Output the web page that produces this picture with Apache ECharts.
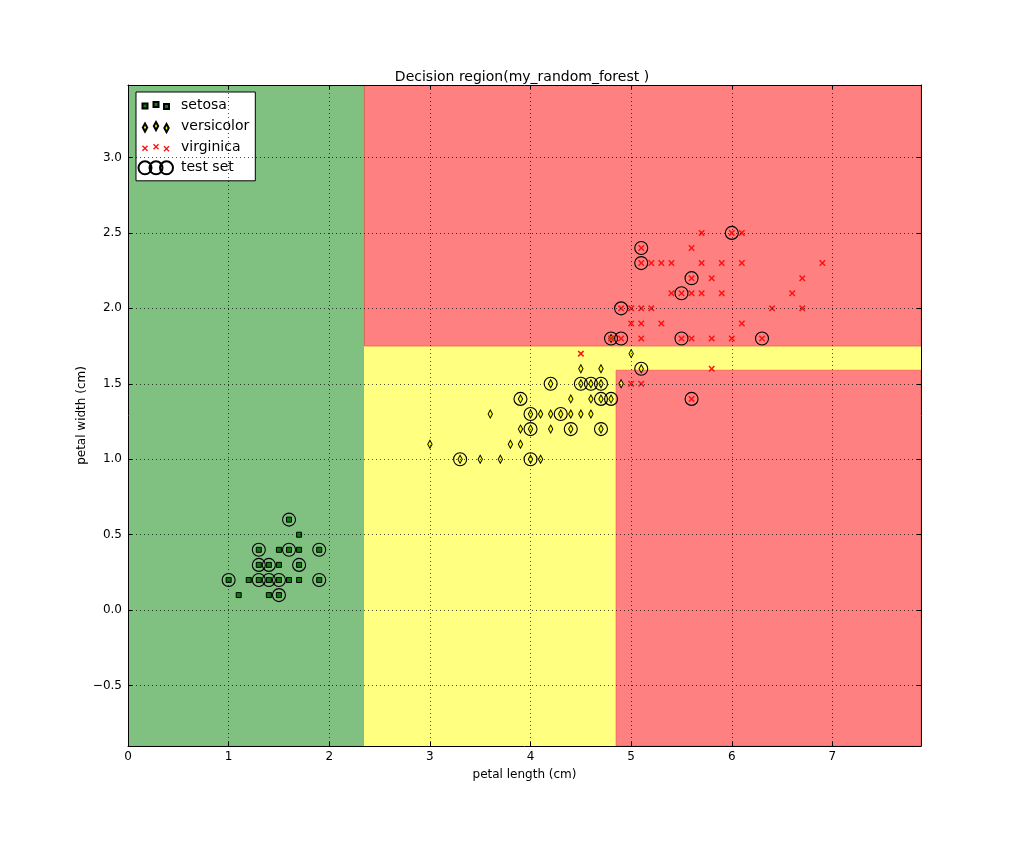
<!DOCTYPE html>
<html>
<head>
<meta charset="utf-8">
<title>Decision region</title>
<script src="https://cdn.jsdelivr.net/npm/echarts@6/dist/echarts.min.js"></script>
<style>
    html, body { margin: 0; padding: 0; background: #fff; }
    #main { width: 1024px; height: 853px; }
</style>
</head>
<body>
<div id="main"></div>
<script>
    // axis ranges and ticks (petal length / petal width mesh extent)
    var xRange = [0, 7.88];
    var yRange = [-0.9, 3.48];
    var xTicks = [0, 1, 2, 3, 4, 5, 6, 7];
    var yTicks = [-0.5, 0.0, 0.5, 1.0, 1.5, 2.0, 2.5, 3.0];

    var classNames = ['setosa', 'versicolor', 'virginica'];

    // decision regions: [x0, y0, x1, y1, class index]
    var regions = [
        [0, -0.9, 2.35, 3.48, 0],
        [2.35, -0.9, 4.85, 1.75, 1],
        [4.85, 1.59, 7.88, 1.75, 1],
        [4.85, -0.9, 7.88, 1.59, 2],
        [2.35, 1.75, 7.88, 3.48, 2]
    ];

    // samples [petal length, petal width]
    var setosa = [
        [1.6, 0.6], [1.7, 0.5],
        [1.3, 0.4], [1.5, 0.4], [1.6, 0.4], [1.7, 0.4], [1.9, 0.4],
        [1.3, 0.3], [1.4, 0.3], [1.5, 0.3], [1.7, 0.3],
        [1.0, 0.2], [1.2, 0.2], [1.3, 0.2], [1.4, 0.2], [1.5, 0.2], [1.6, 0.2], [1.7, 0.2], [1.9, 0.2],
        [1.1, 0.1], [1.4, 0.1], [1.5, 0.1]
    ];
    var versicolor = [
        [4.8, 1.8], [5.0, 1.7],
        [4.5, 1.6], [4.7, 1.6], [5.1, 1.6],
        [4.2, 1.5], [4.5, 1.5], [4.6, 1.5], [4.7, 1.5], [4.9, 1.5],
        [3.9, 1.4], [4.4, 1.4], [4.6, 1.4], [4.7, 1.4], [4.8, 1.4],
        [3.6, 1.3], [4.0, 1.3], [4.1, 1.3], [4.2, 1.3], [4.3, 1.3], [4.4, 1.3], [4.5, 1.3], [4.6, 1.3],
        [3.9, 1.2], [4.0, 1.2], [4.2, 1.2], [4.4, 1.2], [4.7, 1.2],
        [3.0, 1.1], [3.8, 1.1], [3.9, 1.1],
        [3.3, 1.0], [3.5, 1.0], [3.7, 1.0], [4.0, 1.0], [4.1, 1.0]
    ];
    var virginica = [
        [5.7, 2.5], [6.0, 2.5], [6.1, 2.5],
        [5.1, 2.4], [5.6, 2.4],
        [5.1, 2.3], [5.2, 2.3], [5.3, 2.3], [5.4, 2.3], [5.7, 2.3], [5.9, 2.3], [6.1, 2.3], [6.9, 2.3],
        [5.6, 2.2], [5.8, 2.2], [6.7, 2.2],
        [5.4, 2.1], [5.5, 2.1], [5.6, 2.1], [5.7, 2.1], [5.9, 2.1], [6.6, 2.1],
        [4.9, 2.0], [5.0, 2.0], [5.1, 2.0], [5.2, 2.0], [6.4, 2.0], [6.7, 2.0],
        [5.0, 1.9], [5.1, 1.9], [5.3, 1.9], [6.1, 1.9],
        [4.8, 1.8], [4.9, 1.8], [5.1, 1.8], [5.5, 1.8], [5.6, 1.8], [5.8, 1.8], [6.0, 1.8], [6.3, 1.8],
        [4.5, 1.7], [5.8, 1.6], [5.0, 1.5], [5.1, 1.5], [5.6, 1.4]
    ];
    var testSet = [
        [1.6, 0.6], [1.3, 0.4], [1.6, 0.4], [1.9, 0.4], [1.3, 0.3], [1.4, 0.3], [1.7, 0.3],
        [1.0, 0.2], [1.3, 0.2], [1.4, 0.2], [1.5, 0.2], [1.9, 0.2], [1.5, 0.1],
        [3.3, 1.0], [4.0, 1.0], [4.0, 1.2], [4.4, 1.2], [4.7, 1.2], [4.0, 1.3], [4.3, 1.3],
        [3.9, 1.4], [4.7, 1.4], [4.8, 1.4], [4.2, 1.5], [4.5, 1.5], [4.6, 1.5], [4.7, 1.5],
        [5.1, 1.6], [4.8, 1.8],
        [6.0, 2.5], [5.1, 2.4], [5.1, 2.3], [5.6, 2.2], [5.5, 2.1], [4.9, 2.0],
        [4.9, 1.8], [5.5, 1.8], [6.3, 1.8], [5.6, 1.4]
    ];

    var regionColors = ['#80c080', '#ffff80', '#ff8080'];
    var regionEdges = ['rgba(100,200,100,0.9)', 'rgba(255,255,128,1)', 'rgba(240,70,70,0.6)'];
    var font = 'DejaVu Sans';

    // marker shapes
    var xPath = 'M0,1.6L1.6,0L5,3.4L8.4,0L10,1.6L6.6,5L10,8.4L8.4,10L5,6.6L1.6,10L0,8.4L3.4,5Z';
    var xPts = [[0,1.6],[1.6,0],[5,3.4],[8.4,0],[10,1.6],[6.6,5],[10,8.4],[8.4,10],[5,6.6],[1.6,10],[0,8.4],[3.4,5]];

    // legend icons: three markers like matplotlib's scatterpoints=3, in a 38x14 box
    var LW = 38, LH = 14;
    var lx = [7, 18, 28.5], ly = [1, -0.5, 1.5];
    function frame() { return 'M0,0L0,0M' + LW + ',' + LH + 'L' + LW + ',' + LH; }
    function squares() {
        var s = frame();
        for (var i = 0; i < 3; i++) {
            var cx = lx[i], cy = LH / 2 + ly[i];
            s += 'M' + (cx - 2.5) + ',' + (cy - 2.5) + 'h5v5h-5Z';
        }
        return 'path://' + s;
    }
    function diamonds() {
        var s = frame();
        for (var i = 0; i < 3; i++) {
            var cx = lx[i], cy = LH / 2 + ly[i];
            s += 'M' + cx + ',' + (cy - 4) + 'L' + (cx + 2.2) + ',' + cy + 'L' + cx + ',' + (cy + 4) + 'L' + (cx - 2.2) + ',' + cy + 'Z';
        }
        return 'path://' + s;
    }
    function crosses() {
        var s = frame();
        for (var i = 0; i < 3; i++) {
            var k = 0.6, cx = lx[i] - 5 * k, cy = LH / 2 + ly[i] - 5 * k;
            s += xPts.map(function (q, j) { return (j ? 'L' : 'M') + (cx + q[0] * k) + ',' + (cy + q[1] * k); }).join('') + 'Z';
        }
        return 'path://' + s;
    }
    function rings() {
        var s = frame();
        for (var i = 0; i < 3; i++) {
            var cx = lx[i], cy = LH / 2, r = 6.5;
            s += 'M' + (cx - r) + ',' + cy + 'A' + r + ',' + r + ' 0 1,0 ' + (cx + r) + ',' + cy +
                'A' + r + ',' + r + ' 0 1,0 ' + (cx - r) + ',' + cy + 'Z';
        }
        return 'path://' + s;
    }

    function fmtY(v) {
        return v.toFixed(1).replace('-', '\u2212');
    }

    var chart = echarts.init(document.getElementById('main'));

    var baseAxis = {
        type: 'value',
        z: 10,
        axisLine: {show: true, onZero: false, lineStyle: {color: '#000', width: 1}},
        axisTick: {show: true, inside: true, length: 4, lineStyle: {color: '#000'}},
        splitLine: {show: false}
    };

    chart.setOption({
        animation: false,
        backgroundColor: '#fff',
        textStyle: {fontFamily: font},
        title: {
            text: 'Decision region(my_random_forest )',
            left: 517,
            top: 65,
            textAlign: 'center',
            textStyle: {fontFamily: font, fontSize: 14, fontWeight: 'normal', color: '#000'}
        },
        legend: {
            orient: 'vertical',
            left: 136,
            top: 92,
            padding: [5, 6, 5, 1],
            itemGap: 5.6,
            itemWidth: LW,
            itemHeight: LH,
            backgroundColor: '#fff',
            borderColor: '#000',
            borderWidth: 1,
            borderRadius: 0,
            textStyle: {fontFamily: font, fontSize: 14, color: '#000', lineHeight: 14},
            data: [
                {name: 'setosa', icon: squares()},
                {name: 'versicolor', icon: diamonds()},
                {name: 'virginica', icon: crosses()},
                {name: 'test set', icon: rings()}
            ]
        },
        grid: {left: 128, right: 103, top: 85, bottom: 107},
        xAxis: [
            Object.assign({}, baseAxis, {
                position: 'bottom',
                min: xRange[0], max: xRange[1],
                name: 'petal length (cm)',
                nameLocation: 'middle',
                nameGap: 23,
                nameMoveOverlap: false,
                nameTextStyle: {fontFamily: font, fontSize: 12, color: '#000'},
                axisTick: Object.assign({}, baseAxis.axisTick, {customValues: xTicks}),
                axisLabel: {customValues: xTicks, margin: 5, fontFamily: font, fontSize: 12, color: '#000'},
                splitLine: {show: true, lineStyle: {color: 'rgba(0,0,0,0.7)', width: 1, type: [1, 3]}}
            }),
            Object.assign({}, baseAxis, {
                position: 'top',
                min: xRange[0], max: xRange[1],
                axisTick: Object.assign({}, baseAxis.axisTick, {customValues: xTicks}),
                axisLabel: {show: false}
            })
        ],
        yAxis: [
            Object.assign({}, baseAxis, {
                position: 'left',
                min: yRange[0], max: yRange[1],
                name: 'petal width (cm)',
                nameLocation: 'middle',
                nameGap: 40,
                nameMoveOverlap: false,
                nameTextStyle: {fontFamily: font, fontSize: 12, color: '#000'},
                axisTick: Object.assign({}, baseAxis.axisTick, {customValues: yTicks}),
                axisLabel: {
                    customValues: yTicks, margin: 6, fontFamily: font, fontSize: 12, color: '#000',
                    formatter: function (v) { return fmtY(v); }
                },
                splitLine: {show: true, lineStyle: {color: 'rgba(0,0,0,0.7)', width: 1, type: [1, 3]}}
            }),
            Object.assign({}, baseAxis, {
                position: 'right',
                min: yRange[0], max: yRange[1],
                axisTick: Object.assign({}, baseAxis.axisTick, {customValues: yTicks}),
                axisLabel: {show: false}
            })
        ],
        series: [
            {
                name: 'regions',
                type: 'custom',
                silent: true,
                z: 1,
                clip: true,
                data: regions,
                encode: {x: [0, 2], y: [1, 3]},
                renderItem: function (params, api) {
                    var p0 = api.coord([api.value(0), api.value(3)]);
                    var p1 = api.coord([api.value(2), api.value(1)]);
                    var c = api.value(4);
                    return {
                        type: 'rect',
                        shape: {x: p0[0], y: p0[1], width: p1[0] - p0[0], height: p1[1] - p0[1]},
                        style: {fill: regionColors[c], stroke: regionEdges[c], lineWidth: 1}
                    };
                }
            },
            {
                name: 'setosa',
                type: 'scatter',
                z: 3,
                symbol: 'rect',
                symbolSize: 5,
                itemStyle: {color: '#0a7d0a', borderColor: '#000', borderWidth: 1, opacity: 1},
                data: setosa
            },
            {
                name: 'versicolor',
                type: 'scatter',
                z: 3,
                symbol: 'diamond',
                symbolSize: [4.4, 8],
                itemStyle: {color: '#ffff00', borderColor: '#000', borderWidth: 1, opacity: 1},
                data: versicolor
            },
            {
                name: 'virginica',
                type: 'scatter',
                z: 3,
                symbol: 'path://' + xPath,
                symbolSize: 6.5,
                itemStyle: {color: '#ff1010', opacity: 1},
                data: virginica
            },
            {
                name: 'test set',
                type: 'scatter',
                z: 4,
                symbol: 'circle',
                symbolSize: 13,
                itemStyle: {color: 'rgba(0,0,0,0)', borderColor: '#000', borderWidth: 1.1, opacity: 1},
                data: testSet
            }
        ]
    });
</script>
</body>
</html>
